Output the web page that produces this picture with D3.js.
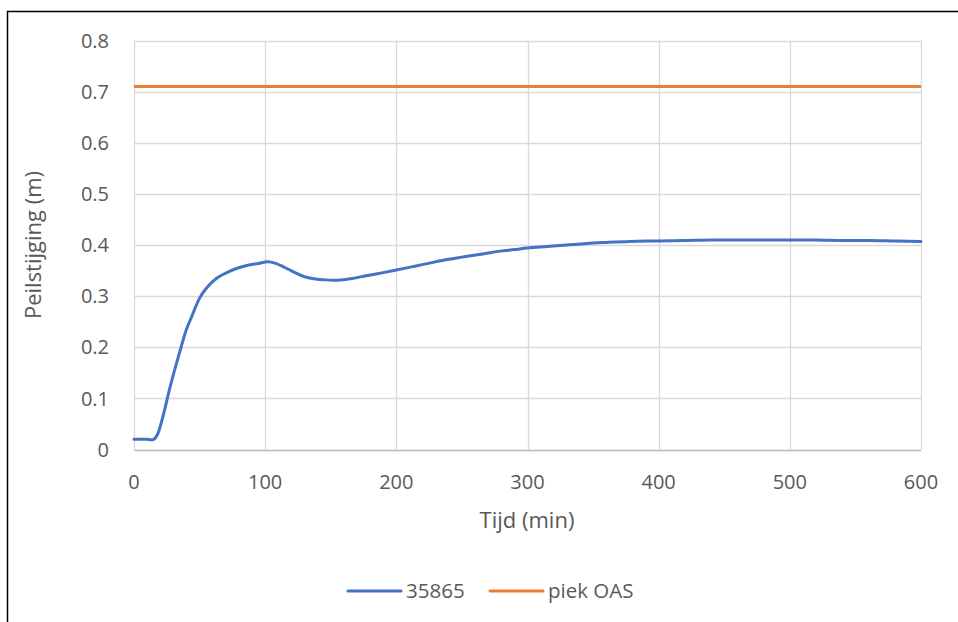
<!DOCTYPE html>
<html>
<head>
<meta charset="utf-8">
<script src="https://cdn.jsdelivr.net/npm/d3@7"></script>
<style>
  body { margin: 0; background: #fff; }
  text { font-family: "Open Sans", sans-serif; fill: #595959; }
</style>
</head>
<body>
<svg class="chart" width="958" height="622"></svg>
<script>
// Data
const timeValues = [0, 5, 10, 13, 15, 18, 22, 27, 32, 36, 40, 44, 50, 56, 63, 70, 78, 86, 95, 102,
  108, 115, 122, 130, 137, 145, 152, 165, 177, 190, 200, 215, 228, 240, 254, 267, 279, 290, 300,
  315, 330, 345, 360, 378, 400, 420, 440, 460, 480, 500, 520, 540, 560, 580, 600];
const levelValues = [0.02, 0.02, 0.02, 0.019, 0.02, 0.03, 0.064, 0.117, 0.165, 0.201, 0.235, 0.26,
  0.296, 0.318, 0.335, 0.345, 0.354, 0.36, 0.364, 0.367, 0.364, 0.356, 0.347, 0.338, 0.334, 0.332,
  0.331, 0.334, 0.34, 0.346, 0.351, 0.359, 0.366, 0.372, 0.378, 0.383, 0.388, 0.391, 0.394, 0.397,
  0.4, 0.403, 0.405, 0.407, 0.408, 0.409, 0.41, 0.41, 0.41, 0.41, 0.41, 0.409, 0.409, 0.408, 0.407];
const peakValue = 0.71;
const seriesNames = ["35865", "piek OAS"];
const xTicks = [0, 100, 200, 300, 400, 500, 600];
const yTicks = [0, 0.1, 0.2, 0.3, 0.4, 0.5, 0.6, 0.7, 0.8];

const svg = d3.select(".chart");

const blue = "#4472c4";
const orange = "#ed7d31";
const gridColor = "#d9d9d9";

// outer frame (cut off at right and bottom)
svg.append("rect")
  .attr("x", 7.5).attr("y", 11.5)
  .attr("width", 1000).attr("height", 700)
  .attr("fill", "none").attr("stroke", "#000").attr("stroke-width", 1.5);

const x = d3.scaleLinear().domain([0, 600]).range([134, 921]);
const y = d3.scaleLinear().domain([0, 0.8]).range([449.5, 40.5]);

// gridlines
svg.append("g").selectAll("line.h")
  .data(yTicks).enter().append("line")
  .attr("x1", x(0)).attr("x2", x(600))
  .attr("y1", d => Math.round(y(d)) + 0.5).attr("y2", d => Math.round(y(d)) + 0.5)
  .attr("stroke", gridColor).attr("stroke-width", 1.3);

svg.append("g").selectAll("line.v")
  .data(xTicks).enter().append("line")
  .attr("y1", y(0)).attr("y2", y(0.8))
  .attr("x1", d => Math.round(x(d)) + 0.5).attr("x2", d => Math.round(x(d)) + 0.5)
  .attr("stroke", gridColor).attr("stroke-width", 1.3);

// bottom axis line
svg.append("line")
  .attr("x1", x(0)).attr("x2", x(600))
  .attr("y1", Math.round(y(0)) + 0.5).attr("y2", Math.round(y(0)) + 0.5)
  .attr("stroke", "#bfbfbf").attr("stroke-width", 1.3);

// tick labels
svg.append("g").selectAll("text")
  .data(yTicks).enter().append("text")
  .attr("x", 109).attr("y", d => y(d))
  .attr("dy", "0.36em")
  .attr("text-anchor", "end")
  .style("font-size", "20px")
  .text(d => d3.format("")(d));

svg.append("g").selectAll("text")
  .data(xTicks).enter().append("text")
  .attr("x", d => x(d)).attr("y", 489)
  .attr("text-anchor", "middle")
  .style("font-size", "20px")
  .text(d => d);

// axis titles
svg.append("text")
  .attr("x", 527).attr("y", 528)
  .attr("text-anchor", "middle")
  .style("font-size", "22px")
  .text("Tijd (min)");

svg.append("text")
  .attr("transform", "translate(41,245) rotate(-90)")
  .attr("text-anchor", "middle")
  .style("font-size", "22px")
  .text("Peilstijging (m)");

// peak line
svg.append("line")
  .attr("x1", x(0)).attr("x2", x(600))
  .attr("y1", y(peakValue)).attr("y2", y(peakValue))
  .attr("stroke", orange).attr("stroke-width", 3);

// measured series
const seriesData = timeValues.map((t, i) => ({ t: t, v: levelValues[i] }));
const line = d3.line()
  .x(d => x(d.t))
  .y(d => y(d.v))
  .curve(d3.curveMonotoneX);

svg.append("path")
  .datum(seriesData)
  .attr("d", line)
  .attr("fill", "none")
  .attr("stroke", blue)
  .attr("stroke-width", 3)
  .attr("stroke-linejoin", "round")
  .attr("stroke-linecap", "round");

// legend
const legend = [
  { name: seriesNames[0], color: blue, x: 348 },
  { name: seriesNames[1], color: orange, x: 490 }
];
const lg = svg.append("g").selectAll("g")
  .data(legend).enter().append("g")
  .attr("transform", d => "translate(" + d.x + ",591)");
lg.append("line")
  .attr("x1", 0).attr("x2", 53)
  .attr("stroke", d => d.color).attr("stroke-width", 3)
  .attr("stroke-linecap", "round");
lg.append("text")
  .attr("x", 58).attr("dy", "0.36em")
  .style("font-size", "20.5px")
  .text(d => d.name);
</script>
</body>
</html>
